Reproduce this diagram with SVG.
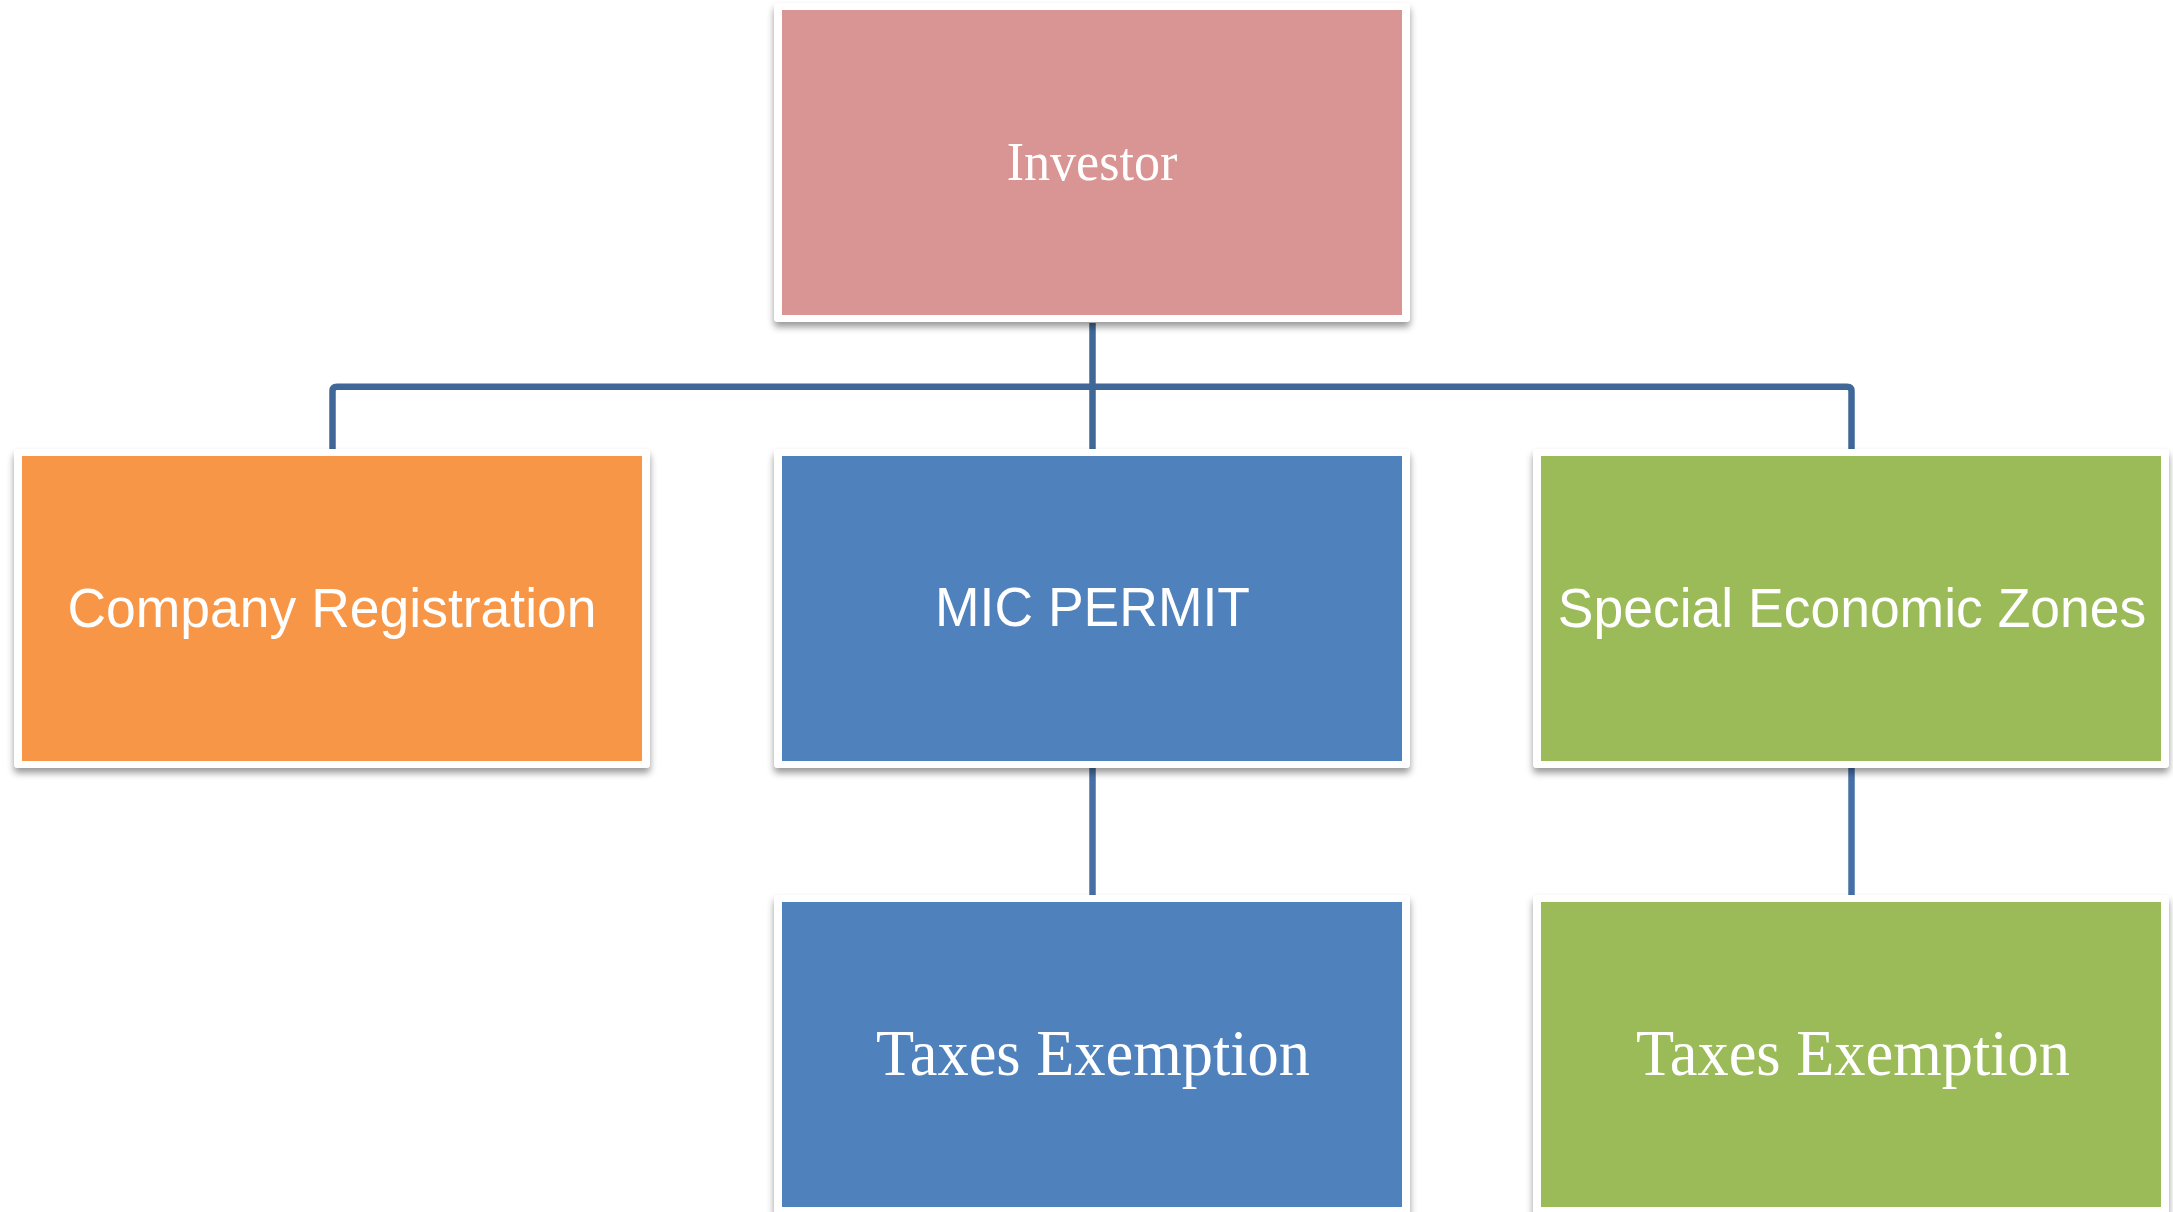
<svg xmlns="http://www.w3.org/2000/svg" width="2173" height="1212" viewBox="0 0 2173 1212">
  <defs>
    <filter id="shadow" x="-5%" y="-5%" width="110%" height="115%">
      <feDropShadow dx="0" dy="5" stdDeviation="3.5" flood-color="#000000" flood-opacity="0.4"/>
    </filter>
    <style>
      .frame { fill: #ffffff; filter: url(#shadow); }
      .conn { fill: none; stroke: #3f6898; stroke-width: 6.5; stroke-linejoin: round; }
      .conn2 { fill: none; stroke: #4670a6; stroke-width: 6.5; }
      .sans { font-family: "Liberation Sans", Arial, sans-serif; font-size: 56px; fill: #ffffff; text-anchor: middle; }
      .serif { font-family: "Liberation Serif", "Times New Roman", serif; fill: #ffffff; text-anchor: middle; }
    </style>
  </defs>
  <rect width="2173" height="1212" fill="#ffffff"/>

  <g id="connectors">
    <path class="conn" d="M1092.5 323 V449"/>
    <path class="conn" d="M332.5 449 V391 Q332.5 386.7 337 386.7 H1847 Q1851.5 386.7 1851.5 391 V449"/>
    <path class="conn2" d="M1092.5 768 V895"/>
    <path class="conn2" d="M1851.5 768 V895"/>
  </g>

  <g id="investor">
    <rect class="frame" x="774" y="3" width="636" height="319" rx="4"/>
    <rect x="782" y="10" width="620" height="305" fill="#d99594"/>
    <text class="serif" font-size="54" transform="translate(1092,180) scale(0.965,1)">Investor</text>
  </g>

  <g id="company-registration">
    <rect class="frame" x="14" y="449" width="636" height="319" rx="4"/>
    <rect x="22" y="456" width="620" height="305" fill="#f79646"/>
    <text class="sans" transform="translate(332,627) scale(0.955,1)">Company Registration</text>
  </g>

  <g id="mic-permit">
    <rect class="frame" x="774" y="449" width="636" height="319" rx="4"/>
    <rect x="782" y="456" width="620" height="305" fill="#4f81bd"/>
    <text class="sans" transform="translate(1092.5,626) scale(0.955,1)">MIC PERMIT</text>
  </g>

  <g id="special-economic-zones">
    <rect class="frame" x="1533" y="449" width="636" height="319" rx="4"/>
    <rect x="1541" y="456" width="620" height="305" fill="#9bbb59"/>
    <text class="sans" transform="translate(1852,627) scale(0.955,1)">Special Economic Zones</text>
  </g>

  <g id="taxes-exemption-mic">
    <rect class="frame" x="774" y="895" width="636" height="319" rx="4"/>
    <rect x="782" y="902" width="620" height="305" fill="#4f81bd"/>
    <text class="serif" font-size="65" transform="translate(1093,1075) scale(0.96,1)">Taxes Exemption</text>
  </g>

  <g id="taxes-exemption-sez">
    <rect class="frame" x="1533" y="895" width="636" height="319" rx="4"/>
    <rect x="1541" y="902" width="620" height="305" fill="#9bbb59"/>
    <text class="serif" font-size="65" transform="translate(1853,1075) scale(0.96,1)">Taxes Exemption</text>
  </g>
</svg>
